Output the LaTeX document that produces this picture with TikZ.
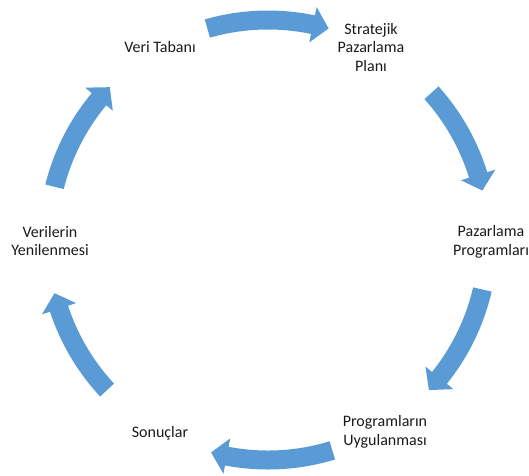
\documentclass[tikz,border=0pt]{standalone}
\usepackage{fontspec}
\setmainfont{Carlito}
\definecolor{cyclearrowblue}{HTML}{5B9BD5}
\definecolor{labelgray}{HTML}{1A1A1A}

% Curved block arrow along the cycle circle, running clockwise
% from angle #1 (tail) to angle #2 (tip).
\newcommand\cyclearrow[2]{%
  \pgfmathsetmacro\headbase{#2+4.2}%
  \fill[cyclearrowblue]
    (#1:229.5pt) arc[start angle=#1, end angle=\headbase, radius=229.5pt]
    -- (\headbase:238pt) -- (#2:220pt) -- (\headbase:202pt)
    -- (\headbase:210.5pt) arc[start angle=\headbase, end angle=#1, radius=210.5pt]
    -- cycle;%
}

\begin{document}
\begin{tikzpicture}[x=1pt,y=1pt,
  steplabel/.style={align=center, text=labelgray, inner sep=0pt,
    font=\fontsize{16}{18.5}\selectfont}]
\useasboundingbox (0,0) rectangle (529,-475);

% the six stages of the cycle
\node[steplabel] (db)    at (160,-47)  {Veri Tabanı};
\node[steplabel] (plan)  at (371,-47)  {Stratejik\\Pazarlama\\Planı};
\node[steplabel] (prog)  at (491,-242) {Pazarlama\\Programları};
\node[steplabel] (apply) at (385,-432) {Programların\\Uygulanması};
\node[steplabel] (res)   at (160,-433) {Sonuçlar};
\node[steplabel] (renew) at (50,-241)  {Verilerin\\Yenilenmesi};

% arrows linking consecutive stages
\begin{scope}[shift={(268,-240)}]
  \cyclearrow{106}{74}
  \cyclearrow{42}{13}
  \cyclearrow{-13}{-43}
  \cyclearrow{-73}{-105}
  \cyclearrow{-137}{-166}
  \cyclearrow{166}{136}
\end{scope}
\end{tikzpicture}
\end{document}
